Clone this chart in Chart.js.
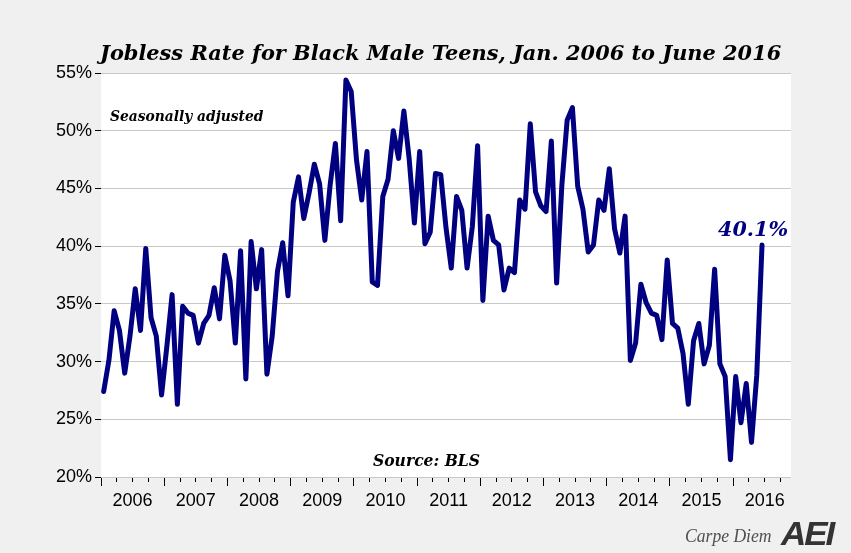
<!DOCTYPE html>
<html>
<head>
<meta charset="utf-8">
<script src="https://cdn.jsdelivr.net/npm/chart.js@4.4.1/dist/chart.umd.min.js"></script>
<style>
  html, body { margin: 0; padding: 0; background: #f0f0f0; }
  #wrap { position: relative; width: 851px; height: 553px; overflow: hidden; }
  #chart { position: absolute; left: 0; top: 0; }
  .note { position: absolute; white-space: nowrap; line-height: 1; transform-origin: 0 50%; }
  #title { font: italic bold 21px "DejaVu Serif"; color: #000; }
  #seas { font: italic bold 15px "DejaVu Serif"; color: #000; }
  #source { font: italic bold 16px "DejaVu Serif"; color: #000; }
  #last { font: italic bold 21px "DejaVu Serif"; color: #000080; }
  #carpe { font: italic 18px "Liberation Serif"; color: #505050; }
  #aei { font: italic bold 33px "Liberation Sans"; color: #333; letter-spacing: -2px; }
</style>
</head>
<body>
<div id="wrap">
  <canvas id="chart" width="851" height="553"></canvas>
  <div class="note" id="title">Jobless Rate for Black Male Teens, Jan. 2006 to June 2016</div>
  <div class="note" id="seas">Seasonally adjusted</div>
  <div class="note" id="source">Source: BLS</div>
  <div class="note" id="last">40.1%</div>
  <div class="note" id="carpe">Carpe Diem</div>
  <div class="note" id="aei">AEI</div>
</div>
<script>
// Datos: tasa mensual, enero 2006 a junio 2016
var years = ['2006', '2007', '2008', '2009', '2010', '2011', '2012', '2013', '2014', '2015', '2016'];

var jobless2006 = [27.4, 30.1, 34.4, 32.7, 29.0, 32.2, 36.3, 32.7, 39.8, 33.8, 32.2, 27.1];
var jobless2007 = [31.3, 35.8, 26.3, 34.8, 34.2, 34.0, 31.6, 33.3, 34.0, 36.4, 33.7, 39.2];
var jobless2008 = [37.0, 31.6, 39.6, 28.5, 40.4, 36.3, 39.7, 28.9, 32.2, 37.8, 40.3, 35.7];
var jobless2009 = [43.8, 46.0, 42.4, 44.6, 47.1, 45.4, 40.5, 45.3, 48.9, 42.2, 54.4, 53.4];
var jobless2010 = [47.5, 44.0, 48.2, 36.9, 36.6, 44.3, 45.8, 50.0, 47.6, 51.7, 47.6, 42.0];
var jobless2011 = [48.2, 40.2, 41.2, 46.3, 46.2, 41.6, 38.1, 44.3, 43.1, 38.1, 41.7, 48.7];
var jobless2012 = [35.3, 42.6, 40.5, 40.1, 36.2, 38.1, 37.7, 44.0, 43.2, 50.6, 44.7, 43.5];
var jobless2013 = [43.0, 49.1, 36.8, 45.3, 50.9, 52.0, 45.2, 43.2, 39.5, 40.1, 44.0, 43.1];
var jobless2014 = [46.7, 41.5, 39.4, 42.6, 30.1, 31.6, 36.7, 35.1, 34.2, 34.0, 31.9, 38.8];
var jobless2015 = [33.3, 32.9, 30.7, 26.3, 31.8, 33.3, 29.8, 31.4, 38.0, 29.8, 28.7, 21.5];
var jobless2016 = [28.7, 24.7, 28.1, 23.0, 28.8, 40.1];

var yTicks = [20, 25, 30, 35, 40, 45, 50, 55];

var jobless = [].concat(jobless2006, jobless2007, jobless2008, jobless2009, jobless2010,
    jobless2011, jobless2012, jobless2013, jobless2014, jobless2015, jobless2016);

// fondo blanco del area de datos
var plotBg = {
    id: 'plotBg',
    beforeDraw: function(chart) {
        var a = chart.chartArea, ctx = chart.ctx;
        ctx.save();
        ctx.fillStyle = '#ffffff';
        ctx.fillRect(a.left, a.top, a.right - a.left, a.bottom - a.top);
        ctx.restore();
    }
};

var ctx = document.getElementById('chart').getContext('2d');
var chart = new Chart(ctx, {
    type: 'line',
    data: {
        datasets: [{
            data: jobless.map(function(v, i) { return { x: i, y: v }; }),
            borderColor: '#000080',
            borderWidth: 5,
            borderJoinStyle: 'round',
            borderCapStyle: 'round',
            pointRadius: 0,
            tension: 0,
            fill: false,
            xAxisID: 'x',
            yAxisID: 'y'
        }]
    },
    options: {
        responsive: false,
        animation: false,
        layout: { padding: { left: 0, top: 73, right: 60, bottom: 0 } },
        plugins: {
            legend: { display: false },
            tooltip: { enabled: false },
            title: { display: false }
        },
        scales: {
            // marcas largas en el cambio de año
            x2: {
                type: 'linear',
                position: 'bottom',
                weight: 0,
                min: -0.5,
                max: 130.5,
                afterBuildTicks: function(scale) {
                    scale.ticks = years.map(function(y, k) { return { value: -0.5 + 12 * k }; });
                },
                afterFit: function(scale) { scale.height = 0; },
                border: { display: false },
                grid: { drawOnChartArea: false, drawTicks: true, tickLength: 9, tickColor: '#000', tickWidth: 1 },
                ticks: { display: false }
            },
            // marcas trimestrales y etiquetas de año
            x: {
                type: 'linear',
                position: 'bottom',
                weight: 1,
                min: -0.5,
                max: 130.5,
                afterBuildTicks: function(scale) {
                    var t = [];
                    for (var k = 0; k < 44; k++) t.push({ value: -0.5 + 3 * k });
                    scale.ticks = t;
                },
                afterFit: function(scale) { scale.height = 76; },
                border: { display: false },
                grid: { drawOnChartArea: false, drawTicks: true, tickLength: 5, tickColor: '#000', tickWidth: 1 },
                ticks: {
                    autoSkip: false,
                    maxRotation: 0,
                    minRotation: 0,
                    padding: 8,
                    color: '#000',
                    font: { family: 'Liberation Sans', size: 18 },
                    callback: function(value, index) {
                        return index % 4 === 2 ? years[Math.floor(index / 4)] : '';
                    }
                }
            },
            y: {
                type: 'linear',
                min: 20,
                max: 55,
                afterBuildTicks: function(scale) {
                    scale.ticks = yTicks.map(function(v) { return { value: v }; });
                },
                afterFit: function(scale) { scale.width = 101; },
                border: { display: false },
                grid: { color: '#c8c8c8', lineWidth: 1, drawTicks: true, tickLength: 6, tickColor: '#000' },
                ticks: {
                    padding: 3,
                    color: '#000',
                    font: { family: 'Liberation Sans', size: 18 },
                    callback: function(v) { return v + '%'; }
                }
            }
        }
    },
    plugins: [plotBg]
});

// colocar textos: izquierda, linea base, ancho
function place(id, left, baseline, width) {
    var el = document.getElementById(id);
    var m = document.createElement('span');
    m.style.display = 'inline-block';
    m.style.width = '0';
    m.style.height = '0';
    el.appendChild(m);
    var off = m.offsetTop;
    var w = el.offsetWidth;
    el.style.left = left + 'px';
    el.style.top = (baseline - off) + 'px';
    el.style.transform = 'scaleX(' + (width / w) + ')';
}

place('title', 100, 60, 681);
place('seas', 110, 121, 153);
place('source', 373, 466, 107);
place('last', 718, 236, 70);
place('carpe', 685, 542, 87);
place('aei', 781, 545, 52);
</script>
</body>
</html>
